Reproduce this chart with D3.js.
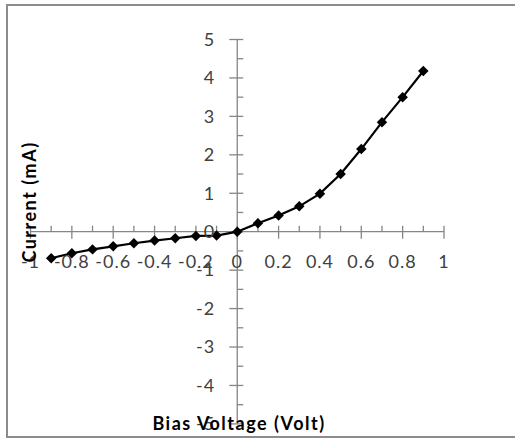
<!DOCTYPE html>
<html><head><meta charset="utf-8">
<script src="https://cdn.jsdelivr.net/npm/d3@7"></script>
<style>body{margin:0;background:#fff;}svg{display:block;}</style>
</head><body>
<svg id="c" width="515" height="439"></svg>
<script>
const voltage = [-0.9,-0.8,-0.7,-0.6,-0.5,-0.4,-0.3,-0.2,-0.1,0,0.1,0.2,0.3,0.4,0.5,0.6,0.7,0.8,0.9];
const current = [-0.69,-0.56,-0.46,-0.38,-0.30,-0.23,-0.17,-0.11,-0.10,0,0.22,0.42,0.66,0.99,1.50,2.15,2.85,3.50,4.18];
const xTicks = [-1,-0.8,-0.6,-0.4,-0.2,0,0.2,0.4,0.6,0.8,1];
const yTicks = [-5,-4,-3,-2,-1,0,1,2,3,4,5];
const xTitle = "Bias Voltage (Volt)";
const yTitle = "Current  (mA)";

const svg = d3.select("#c");
const x = d3.scaleLinear().domain([-1,1]).range([30.5,444]);
const y = d3.scaleLinear().domain([-5,5]).range([423.9,39.5]);
const axisColor = "#868686";
const labelColor = "#404040";
const font = "Lato, 'Open Sans', sans-serif";
const fmt = d => String(d).replace("\u2212","-");

// frame
svg.append("rect").attr("x",7).attr("y",5).attr("width",520).attr("height",432)
  .attr("fill","none").attr("stroke","#8c8c8c").attr("stroke-width",2);

const x0 = x(0), y0 = y(0);

// x axis
const gx = svg.append("g");
gx.append("line").attr("x1",x(-1)).attr("x2",x(1)).attr("y1",y0).attr("y2",y0)
  .attr("stroke",axisColor).attr("stroke-width",1.3);
const xMinor = d3.range(-9,10,2).map(d=>d/10);
gx.selectAll(".xm").data(xTicks).join("line")
  .attr("x1",d=>x(d)).attr("x2",d=>x(d)).attr("y1",y0-6).attr("y2",y0+7)
  .attr("stroke",axisColor).attr("stroke-width",1.3);
gx.selectAll(".xn").data(xMinor).join("line")
  .attr("x1",d=>x(d)).attr("x2",d=>x(d)).attr("y1",y0-6).attr("y2",y0)
  .attr("stroke",axisColor).attr("stroke-width",1.3);

// y axis
const gy = svg.append("g");
gy.append("line").attr("x1",x0).attr("x2",x0).attr("y1",y(5)).attr("y2",y(-5))
  .attr("stroke",axisColor).attr("stroke-width",1.3);
const yMinor = d3.range(-9,10,2).map(d=>d/2);
gy.selectAll(".ym").data(yTicks).join("line")
  .attr("x1",x0-8).attr("x2",x0+6).attr("y1",d=>y(d)).attr("y2",d=>y(d))
  .attr("stroke",axisColor).attr("stroke-width",1.3);
gy.selectAll(".yn").data(yMinor).join("line")
  .attr("x1",x0).attr("x2",x0+6).attr("y1",d=>y(d)).attr("y2",d=>y(d))
  .attr("stroke",axisColor).attr("stroke-width",1.3);

// series
const line = d3.line().x((d,i)=>x(voltage[i])).y(d=>y(d));
svg.append("path").datum(current).attr("d",line)
  .attr("fill","none").attr("stroke","#000").attr("stroke-width",2.2);
svg.selectAll(".pt").data(current).join("path")
  .attr("d",d3.symbol().type(d3.symbolDiamond2).size(70))
  .attr("transform",(d,i)=>`translate(${x(voltage[i])},${y(d)})`)
  .attr("fill","#000");

// tick labels
svg.selectAll(".xl").data(xTicks).join("text")
  .attr("x",d=>x(d)).attr("y",y0+36)
  .attr("text-anchor","middle").attr("font-family",font).attr("font-size",18)
  .attr("letter-spacing",1)
  .attr("fill",labelColor).text(fmt);
svg.selectAll(".yl").data(yTicks).join("text")
  .attr("x",x0-22).attr("y",d=>y(d)).attr("dy","0.35em")
  .attr("text-anchor","end").attr("font-family",font).attr("font-size",18)
  .attr("letter-spacing",1)
  .attr("fill",labelColor).text(fmt);

// titles
svg.append("text").attr("x",239).attr("y",430).attr("text-anchor","middle")
  .attr("font-family",font).attr("font-weight","bold").attr("font-size",18)
  .attr("letter-spacing",1.5)
  .attr("fill","#000").text(xTitle);
svg.append("text").attr("transform","translate(36,202) rotate(-90)").attr("text-anchor","middle")
  .attr("font-family",font).attr("font-weight","bold").attr("font-size",18)
  .attr("letter-spacing",1.5)
  .attr("fill","#000").text(yTitle);
</script>
</body></html>
